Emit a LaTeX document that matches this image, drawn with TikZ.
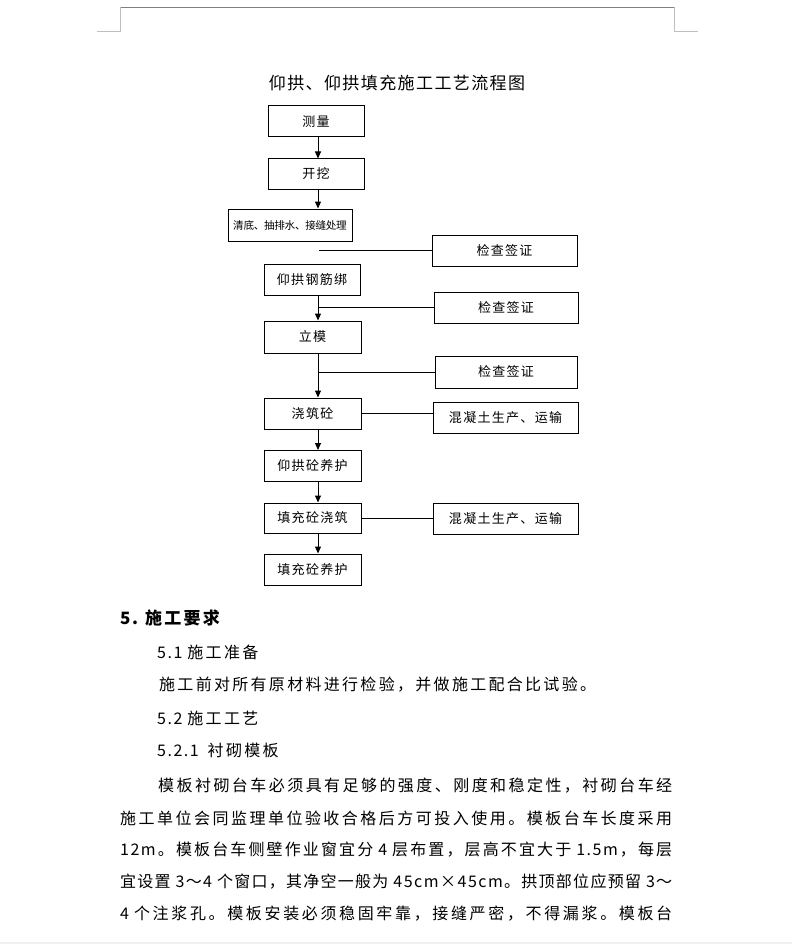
\documentclass[tikz,border=0pt]{standalone}
\usepackage{fontspec}
\setmainfont{Noto Sans CJK SC}
\usetikzlibrary{arrows.meta}

\newskip\cjkgap
\newskip\latgap
\newcount\cjkcode
\newXeTeXintercharclass\cjkcls
\def\setcjkrange#1#2{\cjkcode=#1\relax
  \loop\XeTeXcharclass\cjkcode=\cjkcls\relax\ifnum\cjkcode<#2\relax\advance\cjkcode 1 \repeat}
\setcjkrange{"3000}{"303F}
\setcjkrange{"4E00}{"9FFF}
\setcjkrange{"FF00}{"FFEF}
\XeTeXinterchartokenstate=1
\XeTeXinterchartoks\cjkcls\cjkcls={\hskip\cjkgap}
\XeTeXinterchartoks 0 \cjkcls={\hskip\cjkgap}
\XeTeXinterchartoks\cjkcls 0 ={\hskip\cjkgap}
\XeTeXinterchartoks 0 0 ={\hskip\latgap}

\newcommand\titletext{\fontsize{17}{20}\selectfont\cjkgap=1.4pt\relax}
\newcommand\boxtext{\fontsize{13}{15}\selectfont\cjkgap=1.3pt\relax}
\newcommand\smallboxtext{\fontsize{10.6}{13}\selectfont\cjkgap=-0.3pt\relax}
\newcommand\bodytext{\fontsize{16}{20}\selectfont\cjkgap=2.3pt\latgap=1.5pt\relax}
\newcommand\justtext{\fontsize{16}{20}\selectfont\cjkgap=0pt plus 1fil\latgap=1.5pt\relax}
\newcommand\gap{\hspace{5pt}}

\begin{document}
\begin{tikzpicture}[x=1pt,y=-1pt,
  flow/.style={draw,line width=1pt,inner sep=0pt,font=\boxtext},
  mainbox/.style={flow,minimum width=97pt,minimum height=31pt},
  sidebox/.style={flow,minimum width=145pt,minimum height=31pt},
  arr/.style={line width=1pt,-{Triangle[length=7pt,width=6pt]}},
  link/.style={line width=1pt},
  crop/.style={line width=0.8pt,gray!50},
  bodyline/.style={anchor=west,inner sep=0pt,font=\bodytext},
  fullline/.style={anchor=west,inner sep=0pt,font=\justtext}]
\useasboundingbox (0,0) rectangle (792,944);
\fill[gray!12] (0,942) rectangle (792,944);

\draw[line width=0.8pt,gray] (120,7.5) -- (674,7.5);
\draw[crop] (97,31.5) -- (120,31.5) -- (120,7.5);
\draw[crop] (674,7.5) -- (674,31.5) -- (698,31.5);

\node[font=\titletext] (title) at (397,83) {仰拱、仰拱填充施工工艺流程图};

\coordinate (spine) at (318,0);
\coordinate (stub) at (319,0);

\node[mainbox,minimum width=96pt] (celiang) at (316,121.5) {测量};
\node[mainbox,minimum width=96pt,minimum height=30pt] (kaiwa) at (316,174) {开挖};
\node[mainbox,minimum width=124pt,minimum height=32pt,font=\smallboxtext] (qingdi) at (290,225) {清底、抽排水、接缝处理};
\node[sidebox] (jiancha1) at (504.5,250.5) {检查签证};
\node[mainbox,minimum width=96pt] (gangjin) at (312,279.5) {仰拱钢筋绑};
\node[sidebox,minimum width=144pt] (jiancha2) at (506,307.5) {检查签证};
\node[mainbox,minimum height=32pt] (limo) at (312.5,337) {立模};
\node[sidebox,minimum width=142pt,minimum height=32pt] (jiancha3) at (506,372) {检查签证};
\node[mainbox] (jiaozhu) at (312.5,413.5) {浇筑砼};
\node[sidebox] (hunning1) at (505.5,417.5) {混凝土生产、运输};
\node[mainbox] (yanghu1) at (312.5,466) {仰拱砼养护};
\node[mainbox,minimum height=30pt] (tianchong) at (312.5,518) {填充砼浇筑};
\node[sidebox] (hunning2) at (505.5,518.5) {混凝土生产、运输};
\node[mainbox] (yanghu2) at (312.5,569.5) {填充砼养护};

\draw[arr] (celiang.south -| spine) -- (kaiwa.north -| spine);
\draw[arr] (kaiwa.south -| spine) -- (qingdi.north -| spine);
\draw[arr] (gangjin.south -| spine) -- (limo.north -| spine);
\draw[arr] (limo.south -| spine) -- (jiaozhu.north -| spine);
\draw[arr] (jiaozhu.south -| spine) -- (yanghu1.north -| spine);
\draw[arr] (yanghu1.south -| spine) -- (tianchong.north -| spine);
\draw[arr] (tianchong.south -| spine) -- (yanghu2.north -| spine);
\draw[link] (jiancha1.west) -- (jiancha1.west -| stub);
\draw[link] (jiancha2.west) -- (jiancha2.west -| spine);
\draw[link] (jiancha3.west) -- (jiancha3.west -| spine);
\draw[link] (jiaozhu.east) -- (jiaozhu.east -| hunning1.west);
\draw[link] (tianchong.east) -- (tianchong.east -| hunning2.west);

\node[bodyline,font=\bodytext\bfseries\fontsize{17}{20}\selectfont] (sec5) at (120,618) {5.\hspace{7pt}施工要求};
\node[bodyline] (sec51) at (157,652) {5.1\gap 施工准备};
\node[bodyline] (prep) at (159,685) {施工前对所有原材料进行检验，并做施工配合比试验。};
\node[bodyline] (sec52) at (157,718) {5.2\gap 施工工艺};
\node[bodyline] (sec521) at (157,750) {5.2.1\hspace{9pt}衬砌模板};
\node[fullline] (line1) at (158,786) {\makebox[514pt][s]{模板衬砌台车必须具有足够的强度、刚度和稳定性，衬砌台车经}};
\node[fullline] (line2) at (120,818) {\makebox[552pt][s]{施工单位会同监理单位验收合格后方可投入使用。模板台车长度采用}};
\node[fullline] (line3) at (120,850) {\makebox[552pt][s]{12m。模板台车侧壁作业窗宜分\gap 4\gap 层布置，层高不宜大于\gap 1.5m，每层}};
\node[fullline] (line4) at (120,882) {\makebox[552pt][s]{宜设置\gap 3～4\gap 个窗口，其净空一般为\gap 45cm×45cm。拱顶部位应预留\gap 3～}};
\node[fullline] (line5) at (120,914) {\makebox[552pt][s]{4\gap 个注浆孔。模板安装必须稳固牢靠，接缝严密，不得漏浆。模板台}};
\end{tikzpicture}
\end{document}
